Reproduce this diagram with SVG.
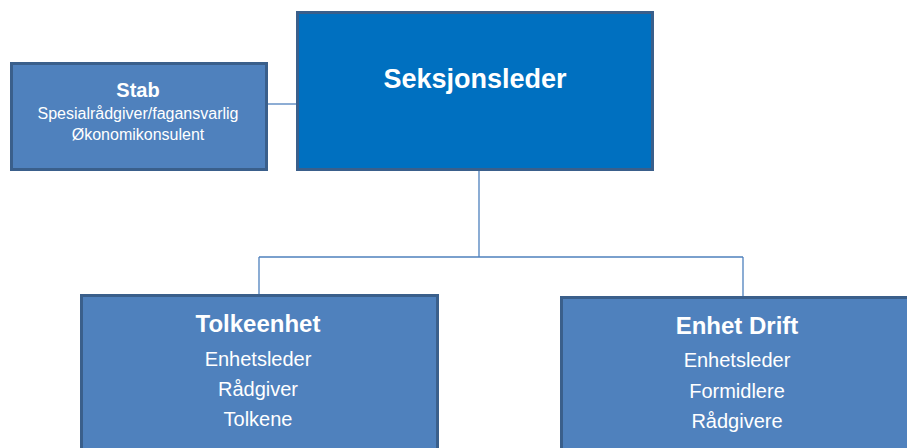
<svg xmlns="http://www.w3.org/2000/svg" width="907" height="448" viewBox="0 0 907 448">
<style>
.box{fill:#4F81BD;stroke:#3A5F8B;stroke-width:3}
.top{fill:#0070C0;stroke:#3A5F8B;stroke-width:3}
.conn{fill:none;stroke:#4F81BD;stroke-width:1.3}
text{font-family:"Liberation Sans",Arial,sans-serif;fill:#FFFFFF;text-anchor:middle}
.b{font-weight:bold}
</style>
<rect width="907" height="448" fill="#FFFFFF"/>
<g id="connectors">
<path class="conn" d="M266,104 H297"/>
<path class="conn" d="M479,170 V257 M259,257 H743 M259,257 V295 M743,257 V297"/>
</g>
<g id="stab">
<rect class="box" x="11.5" y="63.5" width="255" height="106"/>
<text class="b" x="138" y="97" font-size="20">Stab</text>
<text x="138" y="119" font-size="16">Spesialrådgiver/fagansvarlig</text>
<text x="138" y="140" font-size="16">Økonomikonsulent</text>
</g>
<g id="seksjonsleder">
<rect class="top" x="297.5" y="12.5" width="355" height="157"/>
<text class="b" x="475" y="88" font-size="27">Seksjonsleder</text>
</g>
<g id="tolkeenhet">
<rect class="box" x="81.5" y="295.5" width="356" height="170"/>
<text class="b" x="258" y="332" font-size="24">Tolkeenhet</text>
<text x="258" y="366" font-size="20">Enhetsleder</text>
<text x="258" y="396" font-size="20">Rådgiver</text>
<text x="258" y="426" font-size="20">Tolkene</text>
</g>
<g id="enhet-drift">
<rect class="box" x="561.5" y="297.5" width="356" height="170"/>
<text class="b" x="737" y="334" font-size="24">Enhet Drift</text>
<text x="737" y="367" font-size="20">Enhetsleder</text>
<text x="737" y="398" font-size="20">Formidlere</text>
<text x="737" y="428" font-size="20">Rådgivere</text>
</g>
</svg>
